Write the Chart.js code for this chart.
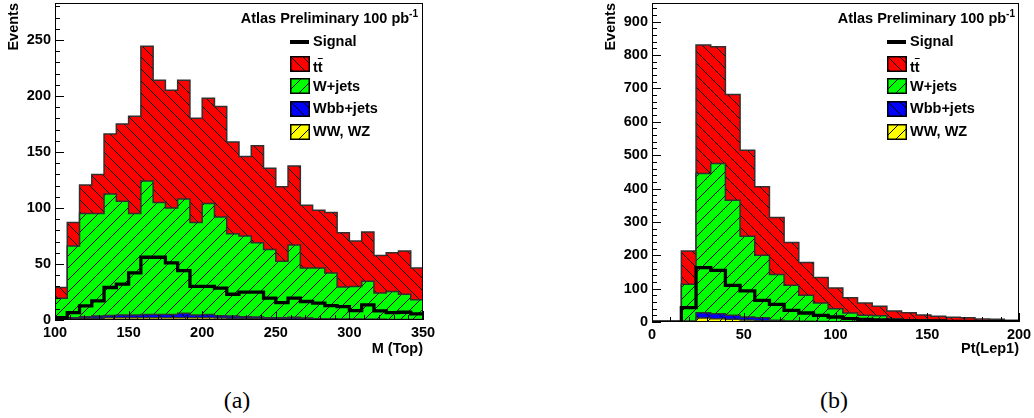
<!DOCTYPE html>
<html>
<head>
<meta charset="utf-8">
<script src="https://cdn.jsdelivr.net/npm/chart.js@4.4.0/dist/chart.umd.min.js"></script>
<style>
  html, body { margin:0; padding:0; background:#fff; }
  #page { position:relative; width:1034px; height:418px; overflow:hidden; font-family:'Liberation Sans', Arial, sans-serif; }
  #page > canvas { position:absolute; top:0; }
  #cvMtop { left:0; }
  #cvPt { left:597px; }
  .leg { position:absolute; top:0; width:128px; height:145px; font-weight:bold; font-size:14.5px; color:#000; }
  .leg .title { position:absolute; right:0; top:10px; line-height:17px; white-space:nowrap; }
  .leg .title sup { font-size:10px; line-height:0; }
  .leg .sw { position:absolute; left:0; width:20px; height:16px; }
  .leg .txt { position:absolute; left:23px; line-height:17px; white-space:nowrap; }
  .leg .sig { position:absolute; left:0; top:40px; width:19px; height:4px; background:#000; }
  .ov { text-decoration:overline; }
  .cap { position:absolute; font-family:'Liberation Serif', 'Times New Roman', serif; font-size:24px; transform:translate(-50%,-50%); }
</style>
</head>
<body>
<div id="page">
  <canvas id="cvMtop" width="440" height="370"></canvas>
  <canvas id="cvPt" width="437" height="370"></canvas>

  <div class="leg" style="left:290px">
    <div class="title">Atlas Preliminary 100 pb<sup>-1</sup></div>
    <div class="sig"></div><div class="txt" style="top:33px">Signal</div>
    <canvas class="sw" data-proc="ttbar" width="20" height="16" style="top:56px"></canvas><div class="txt" style="top:59px">t<span class="ov">t</span></div>
    <canvas class="sw" data-proc="wjets" width="20" height="16" style="top:78px"></canvas><div class="txt" style="top:78px">W+jets</div>
    <canvas class="sw" data-proc="wbb" width="20" height="16" style="top:101px"></canvas><div class="txt" style="top:100px">Wbb+jets</div>
    <canvas class="sw" data-proc="ww" width="20" height="16" style="top:124px"></canvas><div class="txt" style="top:123px">WW, WZ</div>
  </div>

  <div class="leg" style="left:887px">
    <div class="title">Atlas Preliminary 100 pb<sup>-1</sup></div>
    <div class="sig"></div><div class="txt" style="top:33px">Signal</div>
    <canvas class="sw" data-proc="ttbar" width="20" height="16" style="top:56px"></canvas><div class="txt" style="top:59px">t<span class="ov">t</span></div>
    <canvas class="sw" data-proc="wjets" width="20" height="16" style="top:78px"></canvas><div class="txt" style="top:78px">W+jets</div>
    <canvas class="sw" data-proc="wbb" width="20" height="16" style="top:101px"></canvas><div class="txt" style="top:100px">Wbb+jets</div>
    <canvas class="sw" data-proc="ww" width="20" height="16" style="top:124px"></canvas><div class="txt" style="top:123px">WW, WZ</div>
  </div>

  <div class="cap" style="left:237px; top:400px">(a)</div>
  <div class="cap" style="left:834px; top:400px">(b)</div>
</div>

<script>
// M(Top): 30 bins between 100 and 350
const mtopEdges = [100, 108.33, 116.67, 125, 133.33, 141.67, 150, 158.33, 166.67, 175,
  183.33, 191.67, 200, 208.33, 216.67, 225, 233.33, 241.67, 250, 258.33,
  266.67, 275, 283.33, 291.67, 300, 308.33, 316.67, 325, 333.33, 341.67, 350];
const mtopTtbar  = [9.5, 21, 25.5, 35, 53.5, 69, 87, 120.5, 109, 105, 106, 93, 94, 98.5, 82,
  71, 86.5, 72.5, 66.5, 70.5, 56, 51.5, 54, 48.5, 40.5, 44, 33.5, 34.5, 38.5, 28.5];
const mtopWjets  = [18.5, 64, 92, 91.5, 108.5, 101.5, 90.5, 119, 100, 95, 102, 82.5, 99, 88.2, 73.5,
  72, 66.3, 61, 50.5, 64.5, 44.7, 45.3, 40.9, 28.5, 29.2, 33.8, 23.3, 25, 22.5, 17.5];
const mtopWbb    = [0.5, 1, 1.5, 2, 2, 2.5, 2.5, 3, 3, 3, 4, 2.5, 3, 2, 2,
  1.5, 1.5, 1, 1, 1.5, 1, 0.5, 0.5, 0.5, 0.3, 0.3, 0.3, 0.2, 0.2, 0.2];
const mtopWW     = [0.5, 1, 1.5, 1.5, 2, 2, 2, 2, 2, 2, 2, 2, 2, 1.8, 1.5,
  1.5, 1.2, 1, 1, 1, 0.8, 0.7, 0.6, 0.5, 0.5, 0.4, 0.4, 0.3, 0.3, 0.3];
const mtopSignal = [2, 6.5, 12.6, 17, 29, 32, 42, 56, 56, 51, 44, 30, 30, 28.4, 23,
  24.8, 24.8, 19.5, 15.6, 19.5, 16.5, 15, 12.9, 12, 8.4, 13.5, 8.1, 6.6, 6.9, 5.4];
const mtopXTicks = [100, 150, 200, 250, 300, 350];
const mtopYTicks = [0, 50, 100, 150, 200, 250];

// Pt(Lep1): 25 bins between 0 and 200
const ptEdges  = [0, 8, 16, 24, 32, 40, 48, 56, 64, 72, 80, 88, 96, 104, 112, 120, 128,
  136, 144, 152, 160, 168, 176, 184, 192, 200];
const ptTtbar  = [0, 0, 100, 385, 350, 317, 258, 205, 171, 128, 98, 76, 62, 46, 37, 28, 23, 21, 15, 12, 10, 10, 7, 6, 4];
const ptWjets  = [0, 0, 110, 417, 450, 345, 242, 187, 137, 107, 78, 55.5, 39, 26.2, 19.5, 18.6, 9.7, 6.8, 5.9, 4.9, 4, 3, 2, 2, 1];
const ptWbb    = [0, 0, 2, 16, 15, 12, 9, 9, 3, 1.5, 1, 0.7, 0.5, 0.4, 0.2, 0.2, 0.1, 0.1, 0, 0, 0, 0, 0, 0, 0];
const ptWW     = [0, 0, 1, 12, 10, 8, 6, 4, 2, 1.5, 1, 0.8, 0.5, 0.4, 0.3, 0.2, 0.2, 0.1, 0.1, 0.1, 0, 0, 0, 0, 0];
const ptSignal = [0, 0, 43, 163, 155, 110, 93, 65, 53, 35, 27, 20, 15, 10, 8, 6, 5, 4, 3, 3, 2, 2, 1, 1, 1];
const ptXTicks = [0, 50, 100, 150, 200];
const ptYTicks = [0, 100, 200, 300, 400, 500, 600, 700, 800, 900];

const procStyle = {
  ttbar: { color: '#ff0000', dir: 'back' },
  wjets: { color: '#00ff00', dir: 'fwd' },
  wbb:   { color: '#0000ff', dir: 'back' },
  ww:    { color: '#ffff00', dir: 'fwd' }
};

// hatched fill, ROOT style 3004/3005
function hatch(color, dir){
  const s = 12, c = document.createElement('canvas');
  c.width = c.height = s;
  const g = c.getContext('2d');
  g.fillStyle = color; g.fillRect(0, 0, s, s);
  g.strokeStyle = '#000'; g.lineWidth = 1;
  g.beginPath();
  for(let k = -1; k <= 1; k++){
    if(dir === 'back'){ g.moveTo(0, k*s); g.lineTo(s, s + k*s); }
    else { g.moveTo(0, s + k*s); g.lineTo(s, k*s); }
  }
  g.stroke();
  return g.createPattern(c, 'repeat');
}
const fills = {};
for(const k in procStyle) fills[k] = hatch(procStyle[k].color, procStyle[k].dir);

// legend swatches
document.querySelectorAll('canvas.sw').forEach(cv=>{
  const g = cv.getContext('2d');
  g.fillStyle = fills[cv.dataset.proc];
  g.fillRect(0, 0, cv.width, cv.height);
  g.strokeStyle = '#000'; g.lineWidth = 1.5;
  g.strokeRect(0.75, 0.75, cv.width - 1.5, cv.height - 1.5);
});

// one point per bin edge, last bin repeated to close the step
function histo(edges, vals){
  return edges.map((x, i) => ({ x, y: vals[Math.min(i, vals.length - 1)] }));
}

// frame + inward ticks like a ROOT pad
const rootFrame = {
  id: 'rootFrame',
  afterDatasetsDraw(chart, args, opts){
    const { ctx, chartArea: a, scales: { x, y } } = chart;
    const isMajor = (scale, v) => scale.ticks.some(t => Math.abs(t.value - v) < 1e-6);
    ctx.save();
    ctx.strokeStyle = '#000'; ctx.lineWidth = 1;
    ctx.beginPath();
    for(let v = x.min; v <= x.max + 1e-6; v += opts.xMinor){
      const px = Math.round(x.getPixelForValue(v)) + 0.5;
      ctx.moveTo(px, a.bottom); ctx.lineTo(px, a.bottom - (isMajor(x, v) ? 9 : 5));
    }
    for(let v = y.min; v <= y.max + 1e-6; v += opts.yMinor){
      const py = Math.round(y.getPixelForValue(v)) + 0.5;
      ctx.moveTo(a.left, py); ctx.lineTo(a.left + (isMajor(y, v) ? 9 : 5), py);
    }
    ctx.stroke();
    ctx.strokeRect(Math.round(a.left) + 0.5, Math.round(a.top) + 0.5, Math.round(a.width) - 1, Math.round(a.height) - 1);
    ctx.restore();
  }
};

function makeChart(id, d){
  const line = { borderColor: '#303030', borderWidth: 1.5, pointRadius: 0, stepped: true, tension: 0 };
  const font = { family: "'Liberation Sans', Arial, sans-serif", weight: 'bold', size: 14.5 };
  return new Chart(document.getElementById(id), {
    type: 'line',
    data: {
      datasets: [
        { ...line, label: 'WW, WZ',   data: histo(d.edges, d.ww),    backgroundColor: fills.ww,    fill: 'origin' },
        { ...line, label: 'Wbb+jets', data: histo(d.edges, d.wbb),   backgroundColor: fills.wbb,   fill: '-1' },
        { ...line, label: 'W+jets',   data: histo(d.edges, d.wjets), backgroundColor: fills.wjets, fill: '-1' },
        { ...line, label: 'tt',       data: histo(d.edges, d.ttbar), backgroundColor: fills.ttbar, fill: '-1' },
        { label: 'Signal', data: histo(d.edges, d.signal), borderColor: '#000', borderWidth: 3.3,
          pointRadius: 0, stepped: true, fill: false, stack: 'sig', order: -1 }
      ]
    },
    options: {
      responsive: false, animation: false, devicePixelRatio: 1,
      layout: { padding: { left: 0, top: 3, right: d.padRight, bottom: 0 } },
      plugins: { legend: { display: false }, tooltip: { enabled: false },
        rootFrame: { xMinor: 10, yMinor: d.yMinor } },
      scales: {
        x: {
          type: 'linear', min: d.edges[0], max: d.edges[d.edges.length - 1],
          grid: { display: false, drawTicks: false }, border: { display: false },
          ticks: { color: '#000', font, padding: 4, maxRotation: 0, autoSkip: false, includeBounds: false },
          afterBuildTicks: s => { s.ticks = d.xTicks.map(v => ({ value: v })); },
          afterFit: s => { s.height = d.xHeight; s.paddingLeft = 0; s.paddingRight = 0; },
          title: { display: true, text: d.xTitle, align: 'end', color: '#000',
            font, padding: { top: 0, bottom: 12 } }
        },
        y: {
          stacked: true, min: 0, max: d.yMax,
          grid: { display: false, drawTicks: false }, border: { display: false },
          ticks: { color: '#000', font, padding: 4, includeBounds: false },
          afterBuildTicks: s => { s.ticks = d.yTicks.map(v => ({ value: v })); },
          afterFit: s => { s.width = 55; s.paddingTop = 0; s.paddingBottom = 0; },
          title: { display: true, text: 'Events', align: 'end', color: '#000',
            font, padding: { top: 5.5, bottom: 0 } }
        }
      }
    },
    plugins: [rootFrame]
  });
}

makeChart('cvMtop', {
  edges: mtopEdges, ttbar: mtopTtbar, wjets: mtopWjets, wbb: mtopWbb, ww: mtopWW, signal: mtopSignal,
  xTicks: mtopXTicks, yTicks: mtopYTicks, yMax: 283, yMinor: 10,
  xTitle: 'M (Top)', padRight: 17, xHeight: 50
});
makeChart('cvPt', {
  edges: ptEdges, ttbar: ptTtbar, wjets: ptWjets, wbb: ptWbb, ww: ptWW, signal: ptSignal,
  xTicks: ptXTicks, yTicks: ptYTicks, yMax: 956, yMinor: 20,
  xTitle: 'Pt(Lep1)', padRight: 15, xHeight: 48
});
</script>
</body>
</html>
